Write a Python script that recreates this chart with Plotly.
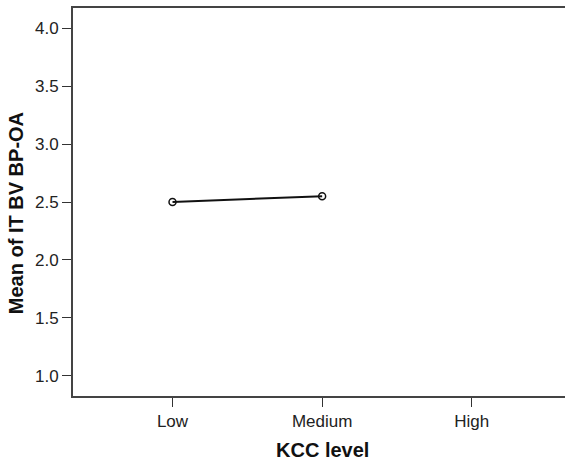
import plotly.graph_objects as go

# KCC level groups and mean IT BV BP-OA per group (High has no observed mean)
kcc_levels = ["Low", "Medium", "High"]
mean_bp_oa = [2.50, 2.55, None]
y_ticks = [1.0, 1.5, 2.0, 2.5, 3.0, 3.5, 4.0]

fig = go.Figure()
fig.add_trace(go.Scatter(
    x=kcc_levels,
    y=mean_bp_oa,
    mode="lines+markers",
    line=dict(color="#111111", width=2),
    marker=dict(symbol="circle-open", size=7, color="#111111", line=dict(width=1.5)),
    connectgaps=False,
    showlegend=False,
))
# empty trace that carries the top frame axis
fig.add_trace(go.Scatter(x=[], y=[], xaxis="x2", showlegend=False, hoverinfo="skip"))

font_family = "Liberation Sans, Arial, sans-serif"
axis_font = dict(family=font_family, size=17, color="#222222")
title_font = dict(family=font_family, size=20, color="#111111")
frame_color = "#444444"
x_range = [-0.665, 2.623]

fig.update_layout(
    template="none",
    width=565,
    height=462,
    margin=dict(l=73, r=0, t=8, b=66),
    paper_bgcolor="white",
    plot_bgcolor="white",
    xaxis=dict(
        type="category",
        categoryorder="array",
        categoryarray=kcc_levels,
        range=x_range,
        showgrid=False,
        zeroline=False,
        showline=True,
        mirror=False,
        linecolor=frame_color,
        linewidth=2,
        ticks="outside",
        ticklen=9,
        tickwidth=1,
        tickcolor="#333333",
        tickfont=axis_font,
    ),
    xaxis2=dict(
        type="category",
        categoryorder="array",
        categoryarray=kcc_levels,
        range=x_range,
        overlaying="x",
        side="top",
        anchor="y",
        showgrid=False,
        zeroline=False,
        showline=True,
        linecolor=frame_color,
        linewidth=2,
        ticks="",
        showticklabels=False,
    ),
    yaxis=dict(
        range=[0.827, 4.173],
        tickvals=y_ticks,
        ticktext=[f"{v:.1f}" for v in y_ticks],
        showgrid=False,
        zeroline=False,
        showline=True,
        mirror=False,
        linecolor=frame_color,
        linewidth=2,
        ticks="outside",
        ticklen=9,
        tickwidth=1,
        tickcolor="#333333",
        tickfont=axis_font,
    ),
    annotations=[
        dict(text="<b>KCC level</b>", xref="paper", yref="paper",
             x=0.508, y=-0.14, xanchor="center", yanchor="middle",
             showarrow=False, font=title_font),
        dict(text="<b>Mean of IT BV BP-OA</b>", xref="paper", yref="paper",
             x=-0.116, y=0.471, xanchor="center", yanchor="middle",
             textangle=-90, showarrow=False, font=title_font),
    ],
)

fig.write_html("out.html", config={"displayModeBar": False})
